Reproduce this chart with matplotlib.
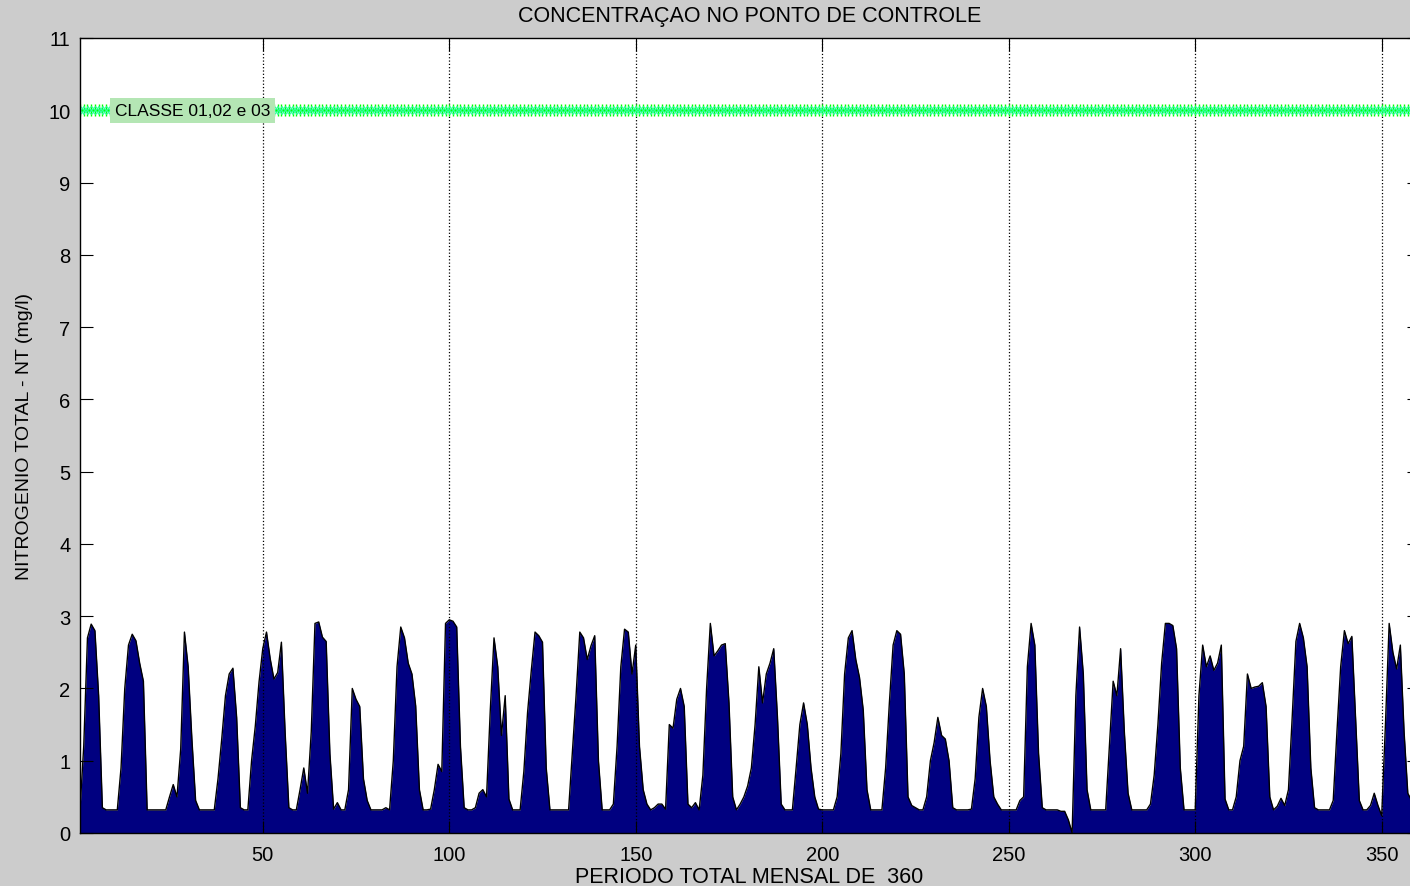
import numpy as np
import matplotlib
matplotlib.use("Agg")
from matplotlib import pyplot as plt

# monthly total nitrogen at the control point (mg/l), months 1..360
nt_year01 = [0.32, 1.2, 2.7, 2.89, 2.8, 1.9, 0.35, 0.32, 0.32, 0.32, 0.32, 0.9]
nt_year02 = [2.0, 2.6, 2.75, 2.66, 2.35, 2.1, 0.32, 0.32, 0.32, 0.32, 0.32, 0.32]
nt_year03 = [0.5, 0.67, 0.5, 1.16, 2.78, 2.3, 1.3, 0.45, 0.32, 0.32, 0.32, 0.32]
nt_year04 = [0.32, 0.75, 1.3, 1.9, 2.2, 2.28, 1.6, 0.35, 0.32, 0.32, 1.0, 1.48]
nt_year05 = [2.09, 2.55, 2.78, 2.41, 2.13, 2.22, 2.64, 1.39, 0.35, 0.32, 0.32, 0.6]
nt_year06 = [0.9, 0.55, 1.4, 2.9, 2.92, 2.71, 2.65, 1.1, 0.33, 0.42, 0.32, 0.32]
nt_year07 = [0.6, 2.0, 1.85, 1.75, 0.75, 0.45, 0.32, 0.32, 0.32, 0.32, 0.35, 0.32]
nt_year08 = [1.0, 2.3, 2.85, 2.7, 2.35, 2.2, 1.76, 0.6, 0.32, 0.32, 0.33, 0.6]
nt_year09 = [0.95, 0.85, 2.9, 2.95, 2.93, 2.85, 1.2, 0.35, 0.32, 0.32, 0.35, 0.55]
nt_year10 = [0.6, 0.5, 1.7, 2.7, 2.3, 1.35, 1.9, 0.47, 0.32, 0.32, 0.32, 0.85]
nt_year11 = [1.67, 2.25, 2.78, 2.73, 2.64, 0.9, 0.32, 0.32, 0.32, 0.32, 0.32, 0.32]
nt_year12 = [1.12, 1.9, 2.78, 2.7, 2.4, 2.59, 2.73, 1.0, 0.32, 0.32, 0.32, 0.4]
nt_year13 = [1.2, 2.3, 2.82, 2.78, 2.2, 2.6, 1.2, 0.6, 0.4, 0.32, 0.35, 0.4]
nt_year14 = [0.4, 0.33, 1.5, 1.45, 1.85, 2.0, 1.75, 0.4, 0.35, 0.42, 0.32, 0.8]
nt_year15 = [2.0, 2.9, 2.45, 2.52, 2.6, 2.62, 1.8, 0.5, 0.32, 0.4, 0.5, 0.65]
nt_year16 = [0.9, 1.5, 2.3, 1.8, 2.2, 2.35, 2.55, 1.6, 0.4, 0.32, 0.32, 0.32]
nt_year17 = [0.9, 1.5, 1.8, 1.5, 0.9, 0.5, 0.33, 0.32, 0.32, 0.32, 0.32, 0.5]
nt_year18 = [1.1, 2.2, 2.7, 2.8, 2.4, 2.15, 1.7, 0.6, 0.32, 0.32, 0.32, 0.32]
nt_year19 = [0.9, 1.8, 2.6, 2.8, 2.75, 2.2, 0.5, 0.38, 0.35, 0.32, 0.32, 0.5]
nt_year20 = [1.0, 1.25, 1.6, 1.35, 1.3, 1.0, 0.35, 0.32, 0.32, 0.32, 0.32, 0.33]
nt_year21 = [0.75, 1.6, 2.0, 1.75, 1.0, 0.5, 0.4, 0.32, 0.32, 0.32, 0.32, 0.32]
nt_year22 = [0.45, 0.5, 2.3, 2.9, 2.6, 1.1, 0.35, 0.32, 0.32, 0.32, 0.32, 0.3]
nt_year23 = [0.3, 0.18, 0.0, 1.9, 2.85, 2.2, 0.6, 0.32, 0.32, 0.32, 0.32, 0.32]
nt_year24 = [1.2, 2.1, 1.9, 2.55, 1.4, 0.55, 0.32, 0.32, 0.32, 0.32, 0.32, 0.4]
nt_year25 = [0.8, 1.5, 2.35, 2.9, 2.9, 2.87, 2.55, 0.9, 0.32, 0.32, 0.32, 0.32]
nt_year26 = [1.9, 2.6, 2.3, 2.45, 2.25, 2.35, 2.6, 0.47, 0.32, 0.32, 0.5, 1.0]
nt_year27 = [1.2, 2.2, 2.0, 2.02, 2.03, 2.08, 1.75, 0.5, 0.32, 0.37, 0.48, 0.38]
nt_year28 = [0.6, 1.6, 2.65, 2.9, 2.7, 2.3, 0.9, 0.35, 0.32, 0.32, 0.32, 0.32]
nt_year29 = [0.45, 1.4, 2.3, 2.8, 2.62, 2.72, 1.6, 0.45, 0.32, 0.32, 0.38, 0.55]
nt_year30 = [0.38, 0.24, 1.5, 2.9, 2.5, 2.27, 2.6, 1.4, 0.55, 0.45, 0.35, 0.32]

class_limit = 10.0
class_label = 'CLASSE 01,02 e 03'

nt = np.concatenate([nt_year01, nt_year02, nt_year03, nt_year04, nt_year05,
                     nt_year06, nt_year07, nt_year08, nt_year09, nt_year10,
                     nt_year11, nt_year12, nt_year13, nt_year14, nt_year15,
                     nt_year16, nt_year17, nt_year18, nt_year19, nt_year20,
                     nt_year21, nt_year22, nt_year23, nt_year24, nt_year25,
                     nt_year26, nt_year27, nt_year28, nt_year29, nt_year30])
months = np.arange(1, len(nt) + 1)

plt.rcParams['font.family'] = ['Liberation Sans', 'DejaVu Sans']

fig = plt.figure(figsize=(14.1, 8.87), dpi=100, facecolor='#cccccc')
ax = fig.add_axes([80/1410, 53/887, 1339/1410, 795/887])
ax.set_facecolor('white')

ax.fill_between(months, 0, nt, color='#000080', linewidth=0)
ax.plot(months, nt, color='black', linewidth=1.0)

# class limit line, asterisk markers like matlab '*'
limit = np.full(len(months), class_limit)
ax.plot(months, limit, color='#00ff00', linewidth=2)
ax.plot(months, limit, linestyle='none', marker='+', markersize=8, color='#00ff00', markeredgewidth=1)
ax.plot(months, limit, linestyle='none', marker='x', markersize=6, color='#30ffa0', markeredgewidth=0.8)
ax.text(10.3, class_limit, class_label, fontsize=12.5, va='center', ha='left',
        bbox=dict(facecolor='#b4e6b4', edgecolor='none', pad=3.5), zorder=5)

ax.set_xlim(1, 360)
ax.set_ylim(0, 11)
ax.set_xticks(np.arange(50, 351, 50))
ax.set_yticks(np.arange(0, 12, 1))
ax.tick_params(direction='in', length=9, labelsize=14.5, top=True, right=True, width=0.8)
ax.tick_params(axis='x', pad=9)
ax.tick_params(axis='y', pad=7)
ax.xaxis.grid(True, linestyle=':', color='black', linewidth=0.9)
for s in ax.spines.values():
    s.set_linewidth(1.0)

ax.set_title('CONCENTRAÇAO NO PONTO DE CONTROLE', fontsize=15.5, pad=12)
ax.set_xlabel('PERIODO TOTAL MENSAL DE  360', fontsize=15.5, labelpad=1)
ax.set_ylabel('NITROGENIO TOTAL - NT (mg/l)', fontsize=14, labelpad=11)

fig.savefig('out.png', dpi=100, facecolor=fig.get_facecolor())
